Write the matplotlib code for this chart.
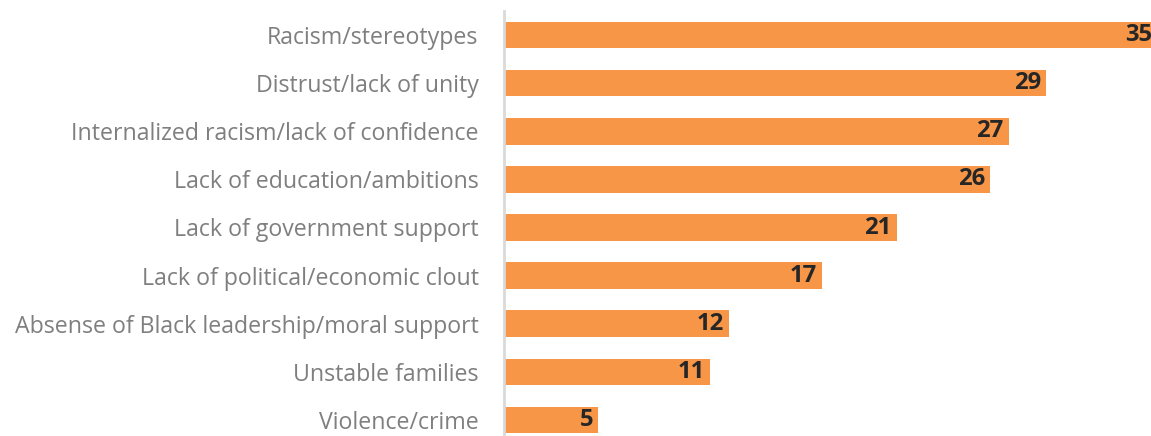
import matplotlib
matplotlib.use("Agg")
import matplotlib.pyplot as plt

plt.rcParams["font.family"] = ["Open Sans", "DejaVu Sans"]

categories = [
    "Racism/stereotypes",
    "Distrust/lack of unity",
    "Internalized racism/lack of confidence",
    "Lack of education/ambitions",
    "Lack of government support",
    "Lack of political/economic clout",
    "Absense of Black leadership/moral support",
    "Unstable families",
    "Violence/crime",
]
values = [35, 29, 27, 26, 21, 17, 12, 11, 5]

W, H = 1151, 436
fig = plt.figure(figsize=(W / 100, H / 100), dpi=100)
ax_left = 505 / W
ax_top = 1 - 11 / H
ax_h = 433 / H
ax = fig.add_axes([ax_left, ax_top - ax_h, (W - 505) / W, ax_h])

pos = list(range(len(categories)))
ax.barh(pos, values, height=0.55, color="#F79646", zorder=2)
ax.set_ylim(len(categories) - 0.5, -0.5)
ax.set_xlim(0, (W - 505) / 18.65)

ax.set_xticks([])
ax.set_yticks(pos)
ax.set_yticklabels(categories)
ax.tick_params(axis="y", length=0, pad=18, labelsize=16.7, labelcolor="#7F7F7F")
for s in ["top", "right", "bottom"]:
    ax.spines[s].set_visible(False)
ax.spines["left"].set_color("#D9D9D9")
ax.spines["left"].set_linewidth(2)
ax.spines["left"].set_position(("outward", 1))

for p, v in zip(pos, values):
    ax.annotate(str(v), xy=(v, p), xytext=(-3.6, 0), textcoords="offset points",
                ha="right", va="center", fontsize=17.2, fontweight="bold",
                color="#262626", annotation_clip=False)

fig.savefig("out.png", dpi=100)
